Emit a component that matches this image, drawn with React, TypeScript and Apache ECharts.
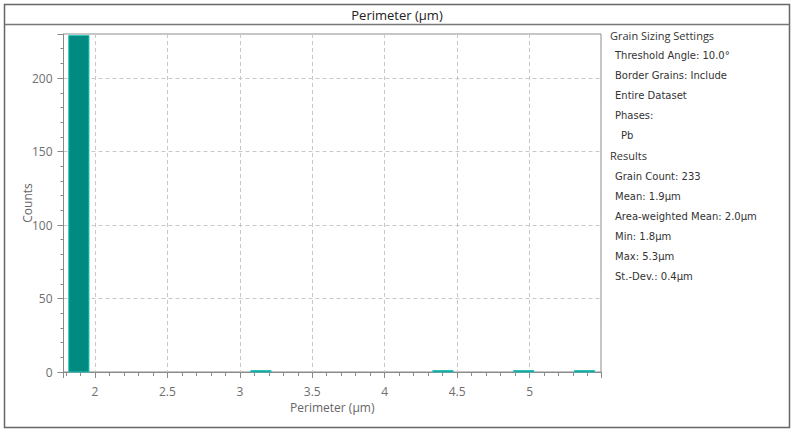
import React, { useEffect, useRef } from "react";
import * as echarts from "echarts";

// Histogram bins: centres (µm) and counts
const binCenters = [1.889, 3.146, 4.402, 4.96, 5.379];
const binCounts = [229, 1, 1, 1, 1];
const binWidth = 0.14;

const xMin = 1.783;
const xMax = 5.493;
const yMax = 230;

const titleText = "Perimeter (µm)";
const xAxisName = "Perimeter (µm)";
const yAxisName = "Counts";

const settingsHeading = "Grain Sizing Settings";
const settingsLines = ["Threshold Angle: 10.0°", "Border Grains: Include", "Entire Dataset", "Phases:"];
const phaseLines = ["Pb"];
const resultsHeading = "Results";
const resultsLines = [
  "Grain Count: 233",
  "Mean: 1.9µm",
  "Area-weighted Mean: 2.0µm",
  "Min: 1.8µm",
  "Max: 5.3µm",
  "St.-Dev.: 0.4µm",
];

const UI_FONT = "'Open Sans', 'Noto Sans', sans-serif";
const V_FONT = "DejaVu Sans";

export default function App() {
  const ref = useRef<HTMLDivElement>(null);

  useEffect(() => {
    if (!ref.current) return;
    const chart = echarts.init(ref.current, undefined, { renderer: "svg" });

    const panelTexts: any[] = [];
    let y = 35;
    const step = 20.15;
    const addText = (t: string, x: number, font: string, size: number) => {
      panelTexts.push({
        type: "text",
        x,
        y,
        style: {
          text: t,
          fontFamily: font,
          fontSize: size,
          fill: "#333",
          verticalAlign: "middle",
        },
      });
      y += step;
    };
    addText(settingsHeading, 610, UI_FONT, 11);
    settingsLines.forEach((t) => addText(t, 615, V_FONT, 10));
    phaseLines.forEach((t) => addText(t, 621, V_FONT, 10));
    addText(resultsHeading, 610, UI_FONT, 11);
    resultsLines.forEach((t) => addText(t, 615, V_FONT, 10));

    const data = binCenters.map((c, i) => [c, binCounts[i]]);

    chart.setOption({
      animation: false,
      backgroundColor: "#ffffff",
      grid: {
        left: 63.5,
        right: 195,
        top: 34,
        bottom: 61,
        show: true,
        borderColor: "#8a8a8a",
        borderWidth: 1,
      },
      xAxis: {
        type: "value",
        min: xMin,
        max: xMax,
        splitNumber: 8,
        name: xAxisName,
        nameLocation: "middle",
        nameGap: 29,
        nameTextStyle: { fontFamily: UI_FONT, fontSize: 12, color: "#666" },
        axisLine: { show: true, lineStyle: { color: "#8a8a8a" } },
        axisTick: { show: true, length: 6, lineStyle: { color: "#8a8a8a" } },
        minorTick: { show: true, splitNumber: 5, length: 4, lineStyle: { color: "#8a8a8a" } },
        axisLabel: {
          showMinLabel: false,
          showMaxLabel: false,
          margin: 13,
          fontFamily: UI_FONT,
          fontSize: 12,
          color: "#6e6e6e",
        },
        splitLine: { show: true, lineStyle: { color: "#c8c8c8", type: [4, 3] } },
      },
      yAxis: {
        type: "value",
        min: 0,
        max: yMax,
        interval: 50,
        name: yAxisName,
        nameLocation: "middle",
        nameGap: 30,
        nameMoveOverlap: false,
        nameTextStyle: { fontFamily: UI_FONT, fontSize: 12, color: "#666" },
        axisLine: { show: true, lineStyle: { color: "#8a8a8a" } },
        axisTick: { show: true, length: 6, lineStyle: { color: "#8a8a8a" } },
        minorTick: { show: true, splitNumber: 5, length: 3, lineStyle: { color: "#8a8a8a" } },
        axisLabel: {
          showMaxLabel: false,
          margin: 11,
          fontFamily: UI_FONT,
          fontSize: 12,
          color: "#6e6e6e",
        },
        splitLine: { show: true, lineStyle: { color: "#c8c8c8", type: [4, 3] } },
      },
      series: [
        {
          type: "custom",
          data,
          renderItem: (params: any, api: any) => {
            const c = api.value(0);
            const v = api.value(1);
            const p0 = api.coord([c - binWidth / 2, v]);
            const p1 = api.coord([c + binWidth / 2, 0]);
            return {
              type: "rect",
              shape: { x: p0[0], y: p0[1], width: p1[0] - p0[0], height: p1[1] - p0[1] },
              style: { fill: "#008b80", stroke: "#2cc4bc", lineWidth: 1 },
            };
          },
          encode: { x: 0, y: 1 },
        },
      ],
      graphic: [
        {
          type: "rect",
          shape: { x: 4.5, y: 4.5, width: 785, height: 423 },
          style: { fill: "none", stroke: "#666", lineWidth: 1.5 },
          silent: true,
        },
        {
          type: "line",
          shape: { x1: 4.5, y1: 24.5, x2: 789.5, y2: 24.5 },
          style: { stroke: "#777", lineWidth: 1.5 },
          silent: true,
        },
        {
          type: "text",
          x: 397,
          y: 15,
          style: {
            text: titleText,
            fontFamily: UI_FONT,
            fontSize: 13,
            fill: "#222",
            align: "center",
            verticalAlign: "middle",
          },
        },
        ...panelTexts,
      ],
    });

    return () => chart.dispose();
  }, []);

  return (
    <div
      ref={ref}
      style={{ position: "fixed", left: 0, top: 0, width: 796, height: 433, background: "#fff" }}
    />
  );
}
